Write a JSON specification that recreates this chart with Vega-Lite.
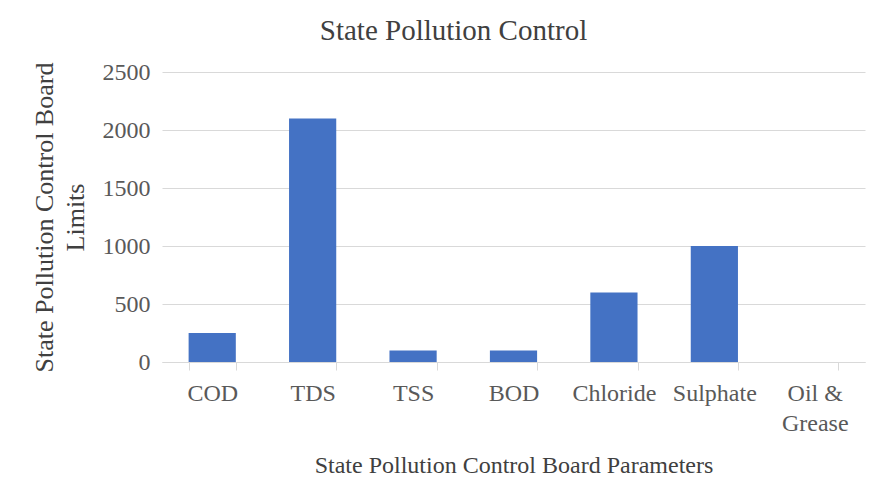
{
  "$schema": "https://vega.github.io/schema/vega-lite/v6.json",
  "autosize": {"type": "none"},
  "width": 703,
  "height": 290,
  "padding": {"left": 162, "top": 72, "right": 16, "bottom": 141},
  "background": "white",
  "title": {
    "text": "State Pollution Control",
    "font": "Liberation Serif",
    "fontSize": 29,
    "fontWeight": "normal",
    "color": "#404040",
    "anchor": "middle",
    "offset": 14,
    "dx": -60
  },
  "data": {
    "values": [
      {"parameter": "COD", "limit": 250},
      {"parameter": "TDS", "limit": 2100},
      {"parameter": "TSS", "limit": 100},
      {"parameter": "BOD", "limit": 100},
      {"parameter": "Chloride", "limit": 600},
      {"parameter": "Sulphate", "limit": 1000},
      {"parameter": "Oil & Grease", "limit": 0}
    ]
  },
  "mark": {"type": "bar", "color": "#4472C4"},
  "encoding": {
    "x": {
      "field": "parameter",
      "type": "nominal",
      "sort": null,
      "scale": {"paddingInner": 0.53, "paddingOuter": 0.265},
      "axis": {
        "title": "State Pollution Control Board Parameters",
        "titleFont": "Liberation Serif",
        "titleFontSize": 24,
        "titleFontWeight": "normal",
        "titleColor": "#404040",
        "titlePadding": 18,
        "labelFont": "Liberation Serif",
        "labelFontSize": 24,
        "labelColor": "#595959",
        "labelAngle": 0,
        "labelPadding": 11,
        "labelLineHeight": 30,
        "labelExpr": "datum.label == 'Oil & Grease' ? ['Oil &', 'Grease'] : datum.label",
        "domainColor": "#d9d9d9",
        "tickColor": "#d9d9d9",
        "tickSize": 8,
        "tickBand": "extent",
        "grid": false
      }
    },
    "y": {
      "field": "limit",
      "type": "quantitative",
      "scale": {"domain": [0, 2500]},
      "axis": {
        "title": ["State Pollution Control Board", "Limits"],
        "titleFont": "Liberation Serif",
        "titleFontSize": 26,
        "titleFontWeight": "normal",
        "titleColor": "#404040",
        "titlePadding": 14,
        "titleLineHeight": 31,
        "values": [0, 500, 1000, 1500, 2000, 2500],
        "labelFont": "Liberation Serif",
        "labelFontSize": 24,
        "labelColor": "#595959",
        "labelPadding": 12,
        "ticks": false,
        "domain": false,
        "gridColor": "#d9d9d9",
        "format": "d"
      }
    }
  },
  "config": {"view": {"stroke": null}}
}
